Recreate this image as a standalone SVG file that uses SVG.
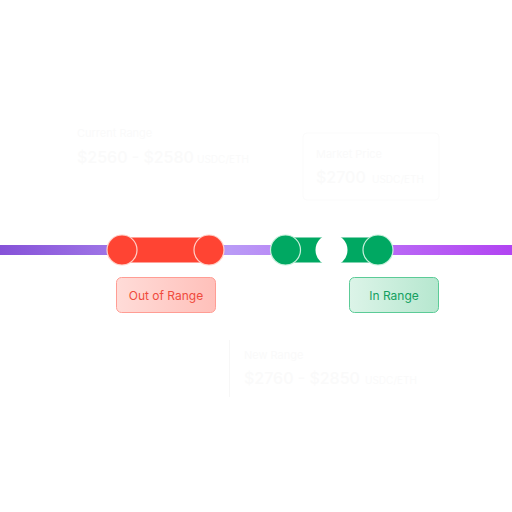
<svg xmlns="http://www.w3.org/2000/svg" width="512" height="512" viewBox="0 0 512 512">
<defs>
<linearGradient id="track" x1="0" y1="0" x2="512" y2="0" gradientUnits="userSpaceOnUse">
<stop offset="0" stop-color="#8652d8"/>
<stop offset="0.45" stop-color="#b99af6"/>
<stop offset="0.7" stop-color="#bb72f6"/>
<stop offset="1" stop-color="#b244f2"/>
</linearGradient>
<linearGradient id="redFill" x1="0" y1="0" x2="1" y2="0">
<stop offset="0" stop-color="#ffdcd8"/>
<stop offset="1" stop-color="#ffc0ba"/>
</linearGradient>
<linearGradient id="greenFill" x1="0" y1="0" x2="1" y2="0">
<stop offset="0" stop-color="#dcf4e8"/>
<stop offset="1" stop-color="#b6e7cf"/>
</linearGradient>
</defs>
<style>
.faint{font-family:Inter,"Noto Sans",sans-serif;fill:#fafafa}
.lbl{font-family:Inter,"Liberation Sans",sans-serif;font-size:12px;font-weight:400;text-anchor:middle}
.knobR{fill:#ff4433;stroke:#ffd0c8;stroke-width:1.2}
.knobG{fill:#00a862;stroke:#c8f0dc;stroke-width:1.2}
</style>
<rect width="512" height="512" fill="#ffffff"/>
<g id="current-range">
<text class="faint" x="77" y="137" font-size="11">Current Range</text>
<text class="faint" x="77" y="163" font-size="16" font-weight="500">$2560 - $2580</text>
<text class="faint" x="197" y="163" font-size="10">USDC/ETH</text>
</g>
<g id="market-price">
<rect x="303" y="133" width="136" height="67" rx="4" fill="none" stroke="#fbfbfb"/>
<text class="faint" x="316" y="158" font-size="11">Market Price</text>
<text class="faint" x="316" y="183" font-size="16" font-weight="500">$2700</text>
<text class="faint" x="372" y="183" font-size="10">USDC/ETH</text>
</g>
<g id="new-range">
<line x1="229.500" y1="340" x2="229.500" y2="397" stroke="#f7f7f7"/>
<text class="faint" x="244" y="359" font-size="11">New Range</text>
<text class="faint" x="244" y="384" font-size="16" font-weight="500">$2760 - $2850</text>
<text class="faint" x="365" y="384" font-size="10">USDC/ETH</text>
</g>
<g id="connectors">
<rect x="0" y="245" width="512" height="10" fill="url(#track)"/>
</g>
<g id="red-range">
<rect x="122" y="237.500" width="87" height="25" fill="#ff4433"/>
<circle class="knobR" cx="122" cy="250" r="15"/>
<circle class="knobR" cx="209" cy="250" r="15"/>
</g>
<g id="green-range">
<rect x="285.500" y="237.500" width="93" height="25" fill="#00a862"/>
<circle class="knobG" cx="285.500" cy="250" r="15"/>
<circle cx="331.500" cy="250" r="16" fill="#ffffff"/>
<circle class="knobG" cx="378" cy="250" r="15"/>
</g>
<g id="out-of-range">
<rect x="116.500" y="277.500" width="99" height="35" rx="5" fill="url(#redFill)" stroke="#ff9d94"/>
<text class="lbl" x="166" y="299.500" fill="#f04a3c">Out of Range</text>
</g>
<g id="in-range">
<rect x="349.500" y="277.500" width="89" height="35" rx="5" fill="url(#greenFill)" stroke="#5ccb97"/>
<text class="lbl" x="394" y="299.500" fill="#13a05f">In Range</text>
</g>
</svg>
